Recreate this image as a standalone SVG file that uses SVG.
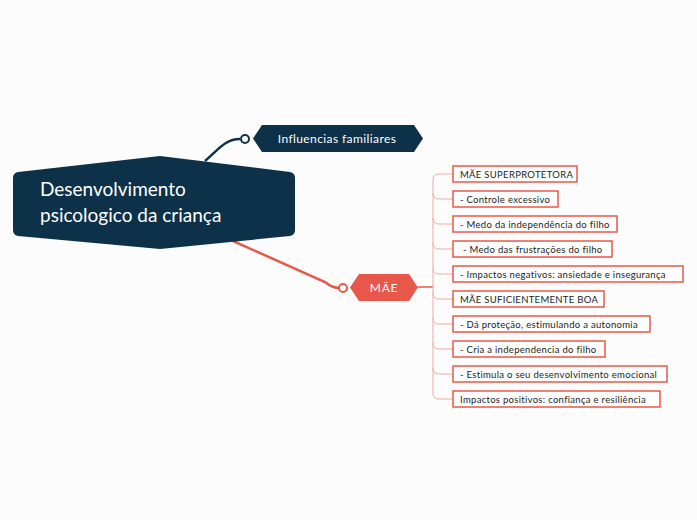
<svg xmlns="http://www.w3.org/2000/svg" width="697" height="520" viewBox="0 0 697 520">
<style>
.t{font-family:Lato,"Liberation Sans",sans-serif}
.leaf rect{fill:#fff;stroke:#e8584a;stroke-width:1.5}
.leaf text{font-family:Lato,"Liberation Sans",sans-serif;font-size:9.5px;fill:#222;letter-spacing:0.3px}
.sub{fill:none;stroke:#f4a9a0;stroke-width:1}
</style>
<rect width="697" height="520" fill="#fcfcfc"/>
<g id="connectors">
<path d="M205,161 C218,150 225,139 240,139" fill="none" stroke="#0d3148" stroke-width="2.5"/>
<circle cx="245" cy="139" r="4" fill="#fff" stroke="#0d3148" stroke-width="2"/>
<path d="M233,241 L325,282 C330,286 334,288 339,288" fill="none" stroke="#e8584a" stroke-width="2.5"/>
<circle cx="343" cy="288" r="4" fill="#fff" stroke="#e8584a" stroke-width="2"/>
<path d="M418,287 L433,287" stroke="#e8584a" stroke-width="1.5"/>
<path class="sub" d="M453,174 H439 Q433,174 433,180 V393 Q433,399 439,399 H453"/>
<path class="sub" d="M433,193 Q433,199 439,199 H453 M433,218 Q433,224 439,224 H453 M433,243 Q433,249 439,249 H453 M433,268 Q433,274 439,274 H453 M433,293 Q433,299 439,299 H453 M433,318 Q433,324 439,324 H453 M433,343 Q433,349 439,349 H453 M433,368 Q433,374 439,374 H453"/>
</g>
<g id="central">
<path d="M18,172 L160,156 L290,172 Q295,173 295,178 L295,230 Q295,235 290,236 L160,249 L18,236 Q13,235 13,230 L13,178 Q13,173 18,172 Z" fill="#0d3148"/>
<text class="t" x="40" y="196" font-size="19" fill="#fff">Desenvolvimento</text>
<text class="t" x="40" y="222" font-size="19" fill="#fff">psicologico da criança</text>
</g>
<g id="influencias">
<path d="M262,125 H414 L423,138.5 L414,152 H262 L253,138.5 Z" fill="#0d3148"/>
<text class="t" x="337" y="143" font-size="12" fill="#fff" text-anchor="middle" letter-spacing="0.4">Influencias familiares</text>
</g>
<g id="mae">
<path d="M359,274 H409 L418,287.5 L409,301 H359 L350,287.5 Z" fill="#e8584a"/>
<text class="t" x="384" y="292" font-size="12" fill="#fff" text-anchor="middle" letter-spacing="0.8">MÃE</text>
</g>
<g id="n1" class="leaf"><rect x="453" y="166" width="124" height="16"/><text x="460" y="177.5">MÃE SUPERPROTETORA</text></g>
<g id="n2" class="leaf"><rect x="453" y="191" width="105" height="16"/><text x="460" y="202.5">- Controle excessivo</text></g>
<g id="n3" class="leaf"><rect x="453" y="216" width="164" height="16"/><text x="460" y="227.5">- Medo da independência do filho</text></g>
<g id="n4" class="leaf"><rect x="453" y="241" width="159" height="16"/><text x="463" y="252.5">- Medo das frustrações do filho</text></g>
<g id="n5" class="leaf"><rect x="453" y="266" width="230" height="16"/><text x="460" y="277.5">- Impactos negativos: ansiedade e insegurança</text></g>
<g id="n6" class="leaf"><rect x="453" y="291" width="151" height="16"/><text x="460" y="302.5">MÃE SUFICIENTEMENTE BOA</text></g>
<g id="n7" class="leaf"><rect x="453" y="316" width="197" height="16"/><text x="460" y="327.5">- Dá proteção, estimulando a autonomia</text></g>
<g id="n8" class="leaf"><rect x="453" y="341" width="152" height="16"/><text x="460" y="352.5">- Cria a independencia do filho</text></g>
<g id="n9" class="leaf"><rect x="453" y="366" width="214" height="16"/><text x="460" y="377.5">- Estimula o seu desenvolvimento emocional</text></g>
<g id="n10" class="leaf"><rect x="453" y="391" width="207" height="16"/><text x="460" y="402.5">Impactos positivos: confiança e resiliência</text></g>
</svg>
